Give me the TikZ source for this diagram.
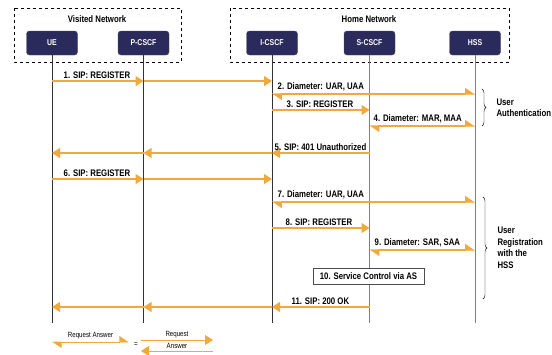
\documentclass[tikz,border=0pt]{standalone}
\usepackage{fontspec}
\setmainfont{Liberation Sans}
\newfontfamily\narrowsf[FakeStretch=0.82]{Liberation Sans}
\usetikzlibrary{arrows.meta,decorations.pathreplacing}

\definecolor{imsnavy}{HTML}{2B2A5C}
\definecolor{msgorange}{HTML}{F2A93B}

\begin{document}
\begin{tikzpicture}[x=1pt,y=-1pt,
  entity/.style={draw=black!70,fill=imsnavy,rounded corners=3pt,minimum width=51pt,minimum height=24pt,
    text=white,font=\narrowsf\bfseries\fontsize{8.5}{9}\selectfont},
  network/.style={draw,dashed,line width=0.6pt},
  nettitle/.style={font=\narrowsf\bfseries\fontsize{9.5}{10}\selectfont},
  lifeline/.style={draw=black!80,line width=0.8pt},
  msg/.style={draw=msgorange,line width=1.1pt,-{Triangle[length=8pt,width=10pt]}},
  reqans/.style={draw=msgorange,line width=1.1pt,
    {Triangle[harpoon,length=9pt,width=12pt]}-{Triangle[harpoon,length=9pt,width=12pt]}},
  lbl/.style={font=\narrowsf\bfseries\fontsize{9.5}{10}\selectfont,inner sep=0.5pt,anchor=south west},
  legend/.style={font=\narrowsf\fontsize{7.5}{8}\selectfont,inner sep=0.5pt,text=black},
  grouplbl/.style={font=\narrowsf\bfseries\fontsize{9.5}{11.5}\selectfont,align=left,anchor=west},
  brace/.style={draw,thin,decorate,decoration={brace,amplitude=4pt}},
]
\useasboundingbox (0,0) rectangle (552,354);

%Rows of the messages (pixels from the top).
\def\ya{81}     %1, SIP REGISTER
\def\yb{94}     %2, UAR/UAA
\def\yc{110}    %3, SIP REGISTER
\def\yd{126}    %4, MAR/MAA
\def\ye{153}    %5, 401
\def\yf{179}    %6, SIP REGISTER
\def\yg{202}    %7, UAR/UAA
\def\yh{228}    %8, SIP REGISTER
\def\yi{250}    %9, SAR/SAA
\def\yk{307}    %11, 200 OK
\def\yend{323}  %end of the lifelines

% Networks.
\draw[network] (14,8) rectangle (181,62);
\draw[network] (230,8) rectangle (509,62);
\node[nettitle] (visited) at (97,19) {Visited Network};
\node[nettitle] (home) at (369,19) {Home Network};

% Entities.
\node[entity] (ue) at (52,43) {UE};
\node[entity] (pcscf) at (143.5,43) {P-CSCF};
\node[entity] (icscf) at (272,43) {I-CSCF};
\node[entity] (scscf) at (369.5,43) {S-CSCF};
\node[entity] (hss) at (475,43) {HSS};

% Lifelines.
\draw[lifeline] (ue.south) -- (ue |- 0,\yend);
\draw[lifeline] (pcscf.south) -- (pcscf |- 0,\yend);
\draw[lifeline] (icscf.south) -- (icscf |- 0,\yend);
\draw[lifeline,draw=black!50] (scscf.south) -- (scscf |- 0,\yend);
\draw[lifeline,draw=black!50] (hss.south) -- (hss |- 0,\yend);

% Registration, first pass.
\draw[msg] (ue |- 0,\ya) -- (pcscf |- 0,\ya);
\draw[msg] (pcscf |- 0,\ya) -- (icscf |- 0,\ya);
\node[lbl] (m1) at (63,\ya-2) {1. SIP: REGISTER};

\draw[reqans] (icscf |- 0,\yb) -- (hss |- 0,\yb);
\node[lbl] (m2) at (277,\yb-2) {2. Diameter: UAR, UAA};

\draw[msg] (icscf |- 0,\yc) -- (scscf |- 0,\yc);
\node[lbl] (m3) at (286,\yc-2) {3. SIP: REGISTER};

\draw[reqans] (scscf |- 0,\yd) -- (hss |- 0,\yd);
\node[lbl] (m4) at (373,\yd-2) {4. Diameter: MAR, MAA};

\draw[msg] (scscf |- 0,\ye) -- (icscf |- 0,\ye);
\draw[msg] (icscf |- 0,\ye) -- (pcscf |- 0,\ye);
\draw[msg] (pcscf |- 0,\ye) -- (ue |- 0,\ye);
\node[lbl] (m5) at (274,\ye-2) {5. SIP: 401 Unauthorized};

% Registration, second pass.
\draw[msg] (ue |- 0,\yf) -- (pcscf |- 0,\yf);
\draw[msg] (pcscf |- 0,\yf) -- (icscf |- 0,\yf);
\node[lbl] (m6) at (63,\yf-2) {6. SIP: REGISTER};

\draw[reqans] (icscf |- 0,\yg) -- (hss |- 0,\yg);
\node[lbl] (m7) at (277,\yg-2) {7. Diameter: UAR, UAA};

\draw[msg] (icscf |- 0,\yh) -- (scscf |- 0,\yh);
\node[lbl] (m8) at (285,\yh-2) {8. SIP: REGISTER};

\draw[reqans] (scscf |- 0,\yi) -- (hss |- 0,\yi);
\node[lbl] (m9) at (374,\yi-2) {9. Diameter: SAR, SAA};

\node[draw=black!70,fill=white,line width=0.7pt,minimum width=111pt,minimum height=16pt,
  font=\narrowsf\bfseries\fontsize{9.5}{10}\selectfont] (svc) at (368.5,276) {10. Service Control via AS};

\draw[msg] (scscf |- 0,\yk) -- (icscf |- 0,\yk);
\draw[msg] (icscf |- 0,\yk) -- (pcscf |- 0,\yk);
\draw[msg] (pcscf |- 0,\yk) -- (ue |- 0,\yk);
\node[lbl] (m11) at (291,\yk-2) {11. SIP: 200 OK};

% Braces.
\coordinate (authtop) at (482,89);
\coordinate (authbot) at (482,126);
\coordinate (regtop) at (483,197);
\coordinate (regbot) at (483,299);
\draw[brace] (authtop) -- (authbot);
\draw[brace] (regtop) -- (regbot);
\node[grouplbl] (auth) at (493,108) {User\\Authentication};
\node[grouplbl] (reg) at (494,248) {User\\Registration\\with the\\HSS};

% Legend.
\coordinate (lga) at (52,342);
\coordinate (lgb) at (129,342);
\coordinate (lgc) at (141,340);
\coordinate (lgd) at (213,340);
\coordinate (lge) at (141,351);
\coordinate (lgf) at (213,351);
\draw[reqans,line width=0.9pt] (lga) -- (lgb) node[legend,midway,above=2pt] (lgra) {Request Answer};
\node[legend] (lgeq) at (136,345) {=};
\draw[msg,line width=0.9pt] (lgc) -- (lgd) node[legend,midway,above=1pt] (lgreq) {Request};
\draw[msg,line width=0.9pt] (lgf) -- (lge) node[legend,midway,above=1pt] (lgans) {Answer};

\end{tikzpicture}
\end{document}
